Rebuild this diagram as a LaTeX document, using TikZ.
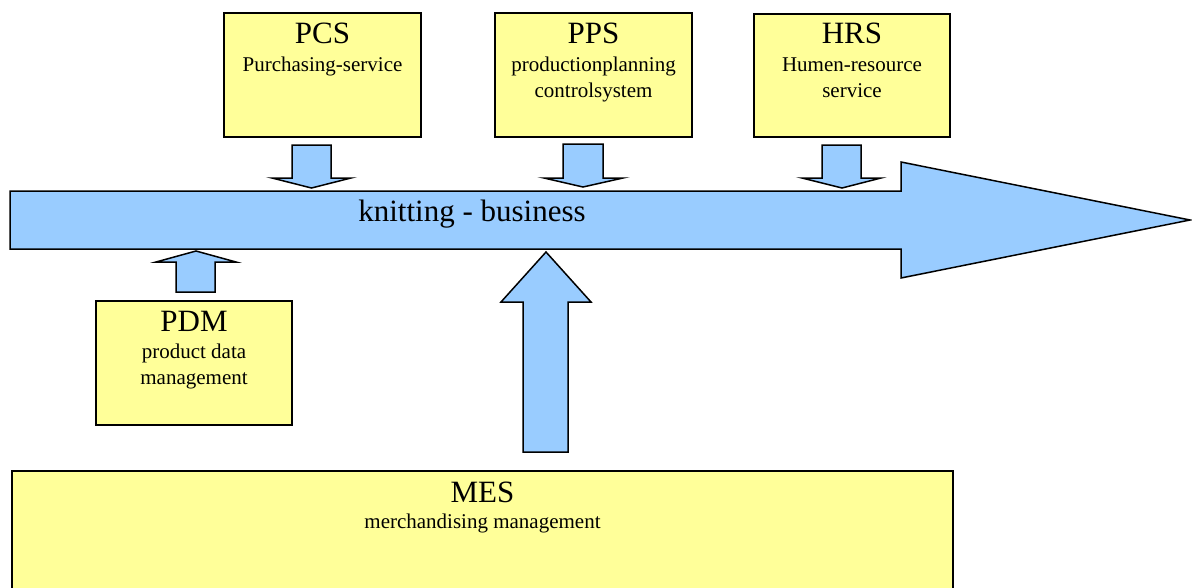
\documentclass[tikz,border=0pt]{standalone}
\usepackage{fontspec}
\setmainfont{Liberation Serif}
\definecolor{boxyellow}{HTML}{FFFF99}
\definecolor{arrowblue}{HTML}{99CCFF}
\begin{document}
\begin{tikzpicture}[x=1pt,y=-1pt,
  box/.style={draw=black, line width=1.5pt, fill=boxyellow},
  blockarrow/.style={draw=black, line width=1.5pt, fill=arrowblue, line join=miter},
  title/.style={anchor=base, inner sep=0pt, font=\fontsize{31}{36}\selectfont},
  sub/.style={anchor=base, inner sep=0pt, font=\fontsize{21}{26}\selectfont}]
\useasboundingbox (0,0) rectangle (1192,587);
% main arrow
\draw[blockarrow] (10,191) -- (901,191) -- (901,162) -- (1190,220) -- (901,278) -- (901,249) -- (10,249) -- cycle;
\node[title] (kb) at (472,221) {knitting - business};
% boxes
\draw[box] (224,13) rectangle (421,137);
\coordinate (pcsbox) at (322.5,75);
\draw[box] (495,13) rectangle (692,137);
\coordinate (ppsbox) at (593.5,75);
\draw[box] (754,14) rectangle (950,137);
\coordinate (hrsbox) at (852,75);
\draw[box] (96,301) rectangle (292,425);
\coordinate (pdmbox) at (194,363);
\draw[box] (12,471) rectangle (953,620);
\coordinate (mesbox) at (482.5,530);
% texts
\node[title] (pcs) at (322.5,43) {PCS};
\node[sub] (pcs1) at (322.5,71) {Purchasing-service};
\node[title] (pps) at (593.5,43) {PPS};
\node[sub] (pps1) at (593.5,71) {productionplanning};
\node[sub] (pps2) at (593.5,97) {controlsystem};
\node[title] (hrs) at (852,43) {HRS};
\node[sub] (hrs1) at (852,71) {Humen-resource};
\node[sub] (hrs2) at (852,97) {service};
\node[title] (pdm) at (194,331) {PDM};
\node[sub] (pdm1) at (194,358) {product data};
\node[sub] (pdm2) at (194,384) {management};
\node[title] (mes) at (482.5,502) {MES};
\node[sub] (mes1) at (482.5,528) {merchandising management};
% down arrows
\draw[blockarrow] (292,145) -- (331,145) -- (331,178) -- (351,178) -- (311.5,188) -- (272,178) -- (292,178) -- cycle;
\draw[blockarrow] (563,144) -- (603,144) -- (603,178) -- (623,178) -- (583,187) -- (544,178) -- (563,178) -- cycle;
\draw[blockarrow] (822,145) -- (861,145) -- (861,178) -- (881,178) -- (842,188) -- (802,178) -- (822,178) -- cycle;
% up arrows
\draw[blockarrow] (176,292) -- (215,292) -- (215,262) -- (236,262) -- (196,251) -- (156,262) -- (176,262) -- cycle;
\draw[blockarrow] (523,452) -- (568,452) -- (568,302) -- (591,302) -- (546,252) -- (501,302) -- (523,302) -- cycle;
\end{tikzpicture}
\end{document}
